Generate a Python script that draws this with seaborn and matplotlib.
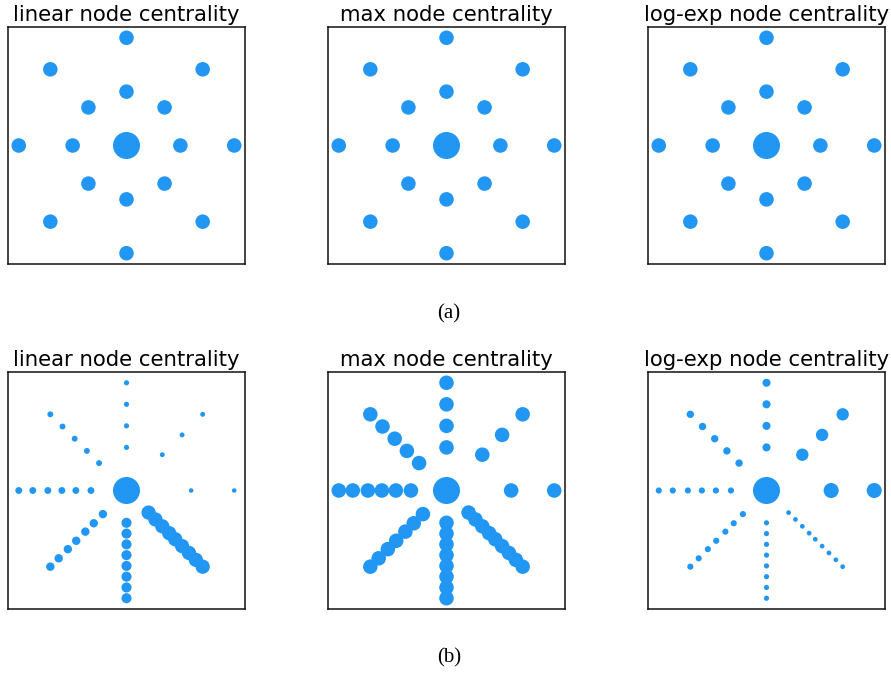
import numpy as np
import pandas as pd
import seaborn as sns
import matplotlib
matplotlib.use('Agg')
import matplotlib.pyplot as plt

sns.set_style('white')
plt.rcParams['font.family'] = ['DejaVu Sans']
plt.rcParams['text.color'] = 'black'

# ---------------- data ----------------
titles = ['linear node centrality', 'max node centrality', 'log-exp node centrality']
captions = ['(a)', '(b)']
node_color = '#2196f3'

# arm directions (degrees, counter-clockwise from the right)
arm_angles = [0, 45, 90, 135, 180, 225, 270, 315]

# (a) star graph: every arm has two nodes
radii_a = [
    [0.5, 1.0], [0.5, 1.0], [0.5, 1.0], [0.5, 1.0],
    [0.5, 1.0], [0.5, 1.0], [0.5, 1.0], [0.5, 1.0],
]
# (b) arms of 2..9 nodes
radii_b = [
    [0.6, 1.0],
    [0.47, 0.73, 1.0],
    [0.4, 0.6, 0.8, 1.0],
    [0.36, 0.52, 0.68, 0.84, 1.0],
    [0.33, 0.47, 0.6, 0.73, 0.87, 1.0],
    [0.31, 0.43, 0.54, 0.66, 0.77, 0.89, 1.0],
    [0.3, 0.4, 0.5, 0.6, 0.7, 0.8, 0.9, 1.0],
    [0.29, 0.38, 0.47, 0.56, 0.64, 0.73, 0.82, 0.91, 1.0],
]

# centrality per arm (relative to centre node = 1)
center_centrality = 1.0
cent_a_linear = [0.29, 0.29, 0.29, 0.29, 0.29, 0.29, 0.29, 0.29]
cent_a_max = [0.29, 0.29, 0.29, 0.29, 0.29, 0.29, 0.29, 0.29]
cent_a_logexp = [0.29, 0.29, 0.29, 0.29, 0.29, 0.29, 0.29, 0.29]
cent_b_linear = [0.028, 0.033, 0.037, 0.048, 0.065, 0.097, 0.14, 0.28]
cent_b_max = [0.29, 0.29, 0.29, 0.29, 0.29, 0.29, 0.29, 0.29]
cent_b_logexp = [0.31, 0.21, 0.09, 0.075, 0.052, 0.052, 0.037, 0.031]


def build_nodes(radii, cents):
    rows = [{'x': 0.0, 'y': 0.0, 'c': center_centrality}]
    for ang, rs, c in zip(arm_angles, radii, cents):
        t = np.deg2rad(ang)
        for r in rs:
            rows.append({'x': r * np.cos(t), 'y': r * np.sin(t), 'c': c})
    return pd.DataFrame(rows)


panels = [
    [build_nodes(radii_a, cent_a_linear), build_nodes(radii_a, cent_a_max), build_nodes(radii_a, cent_a_logexp)],
    [build_nodes(radii_b, cent_b_linear), build_nodes(radii_b, cent_b_max), build_nodes(radii_b, cent_b_logexp)],
]

# ---------------- figure ----------------
W, H = 891, 675
fig = plt.figure(figsize=(W / 100, H / 100), dpi=100)

col_x = [8, 328, 648]
row_top = [27, 372]
box = 237
max_area = (27 * 72 / 100) ** 2  # centre node diameter ~27 px

for r in range(2):
    for c in range(3):
        ax = fig.add_axes([col_x[c] / W, 1 - (row_top[r] + box) / H, box / W, box / H])
        sns.scatterplot(data=panels[r][c], x='x', y='y', size='c',
                        sizes=(0, max_area), size_norm=(0, 1),
                        color=node_color, linewidth=0, legend=False, ax=ax)
        ax.set_xlim(-1.1, 1.1)
        ax.set_ylim(-1.1, 1.1)
        ax.set_xticks([])
        ax.set_yticks([])
        ax.set_xlabel('')
        ax.set_ylabel('')
        for sp in ax.spines.values():
            sp.set_color('#111111')
            sp.set_linewidth(1.1)
        ax.set_title(titles[c], fontsize=15.3, pad=4, color='black')

fig.text(449 / W, 1 - 314 / H, captions[0], ha='center', va='center',
         fontsize=15, family='Liberation Serif', color='black')
fig.text(449 / W, 1 - 658 / H, captions[1], ha='center', va='center',
         fontsize=15, family='Liberation Serif', color='black')

fig.savefig('out.png', dpi=100)
